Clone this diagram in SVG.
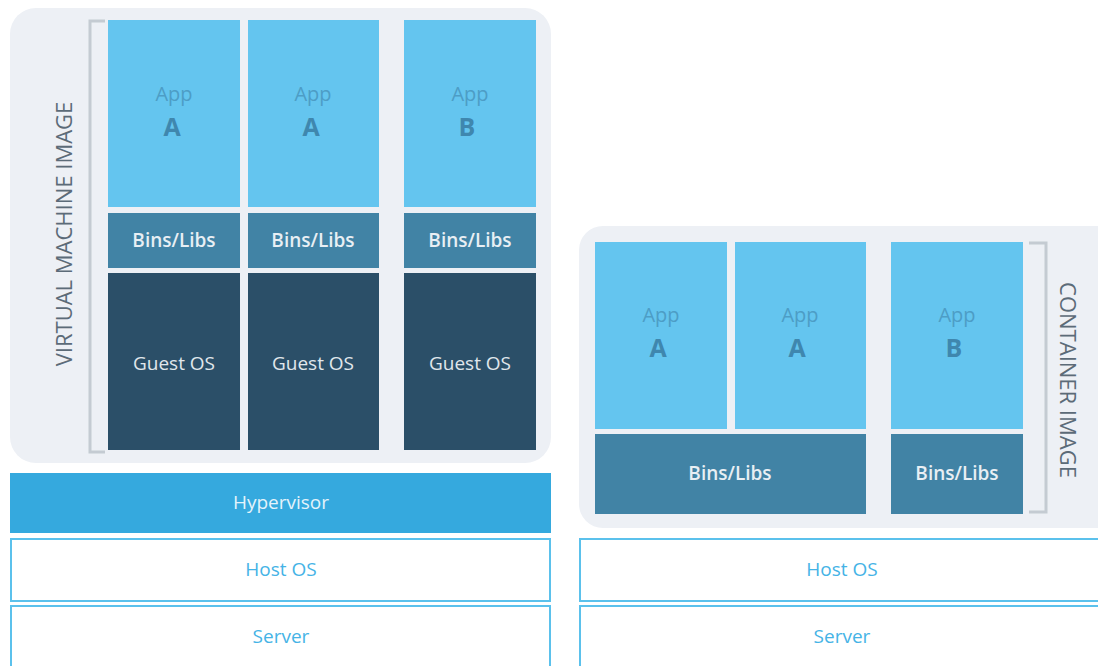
<svg xmlns="http://www.w3.org/2000/svg" width="1098" height="666" viewBox="0 0 1098 666">
<style>
text{font-family:"Open Sans","Noto Sans","Liberation Sans",sans-serif;text-anchor:middle}
.bg{fill:#edf0f5}
.app{fill:#64c5ef}
.bins{fill:#4183a5}
.os{fill:#2b4f68}
.hyp{fill:#35a9de}
.layer{fill:#ffffff;stroke:#5bc1ec;stroke-width:2}
.br{fill:none;stroke:#c4cbd2;stroke-width:3}
.t-app{font-size:20px;fill:#4d9dc6}
.t-let{font-size:25px;font-weight:700;fill:#3f87ae}
.t-bins{font-size:19px;font-weight:600;fill:#e8eff4}
.t-os{font-size:19px;fill:#e0e7ec}
.t-hyp{font-size:19px;fill:#e4f3fb}
.t-layer{font-size:19px;fill:#45b3e6}
.t-side{font-size:22px;fill:#5c6b78}
</style>
<g id="vm-panel">
<rect class="bg" x="10" y="8" width="541" height="455" rx="26"/>
<path class="br" d="M105 21 H90 V452 H105"/>
<text class="t-side" transform="translate(72 234) rotate(-90)">VIRTUAL MACHINE IMAGE</text>
</g>
<g id="vm1">
<rect class="app" x="108" y="20" width="132" height="187"/>
<text class="t-app" x="174" y="101">App</text>
<text class="t-let" x="172" y="136">A</text>
<rect class="bins" x="108" y="213" width="132" height="55"/>
<text class="t-bins" x="174" y="247">Bins/Libs</text>
<rect class="os" x="108" y="273" width="132" height="177"/>
<text class="t-os" x="174" y="370">Guest OS</text>
</g>
<g id="vm2">
<rect class="app" x="248" y="20" width="131" height="187"/>
<text class="t-app" x="313" y="101">App</text>
<text class="t-let" x="311" y="136">A</text>
<rect class="bins" x="248" y="213" width="131" height="55"/>
<text class="t-bins" x="313" y="247">Bins/Libs</text>
<rect class="os" x="248" y="273" width="131" height="177"/>
<text class="t-os" x="313" y="370">Guest OS</text>
</g>
<g id="vm3">
<rect class="app" x="404" y="20" width="132" height="187"/>
<text class="t-app" x="470" y="101">App</text>
<text class="t-let" x="467" y="136">B</text>
<rect class="bins" x="404" y="213" width="132" height="55"/>
<text class="t-bins" x="470" y="247">Bins/Libs</text>
<rect class="os" x="404" y="273" width="132" height="177"/>
<text class="t-os" x="470" y="370">Guest OS</text>
</g>
<g id="hypervisor">
<rect class="hyp" x="10" y="473" width="541" height="60"/>
<text class="t-hyp" x="281" y="509">Hypervisor</text>
</g>
<g id="host-os-left">
<rect class="layer" x="11" y="539" width="539" height="62"/>
<text class="t-layer" x="281" y="576">Host OS</text>
</g>
<g id="server-left">
<rect class="layer" x="11" y="606" width="539" height="64"/>
<text class="t-layer" x="281" y="643">Server</text>
</g>
<g id="container-panel">
<rect class="bg" x="579" y="226" width="545" height="302" rx="24"/>
<path class="br" d="M1029 243 H1046 V512 H1029"/>
<text class="t-side" transform="translate(1060 380) rotate(90)">CONTAINER IMAGE</text>
</g>
<g id="c1">
<rect class="app" x="595" y="242" width="132" height="187"/>
<text class="t-app" x="661" y="322">App</text>
<text class="t-let" x="658" y="357">A</text>
</g>
<g id="c2">
<rect class="app" x="735" y="242" width="131" height="187"/>
<text class="t-app" x="800" y="322">App</text>
<text class="t-let" x="797" y="357">A</text>
</g>
<g id="bins-a">
<rect class="bins" x="595" y="434" width="271" height="80"/>
<text class="t-bins" x="730" y="480">Bins/Libs</text>
</g>
<g id="c3">
<rect class="app" x="891" y="242" width="132" height="187"/>
<text class="t-app" x="957" y="322">App</text>
<text class="t-let" x="954" y="357">B</text>
</g>
<g id="bins-b">
<rect class="bins" x="891" y="434" width="132" height="80"/>
<text class="t-bins" x="957" y="480">Bins/Libs</text>
</g>
<g id="host-os-right">
<rect class="layer" x="580" y="539" width="530" height="62"/>
<text class="t-layer" x="842" y="576">Host OS</text>
</g>
<g id="server-right">
<rect class="layer" x="580" y="606" width="530" height="64"/>
<text class="t-layer" x="842" y="643">Server</text>
</g>
<g id="connectors"/>
</svg>
